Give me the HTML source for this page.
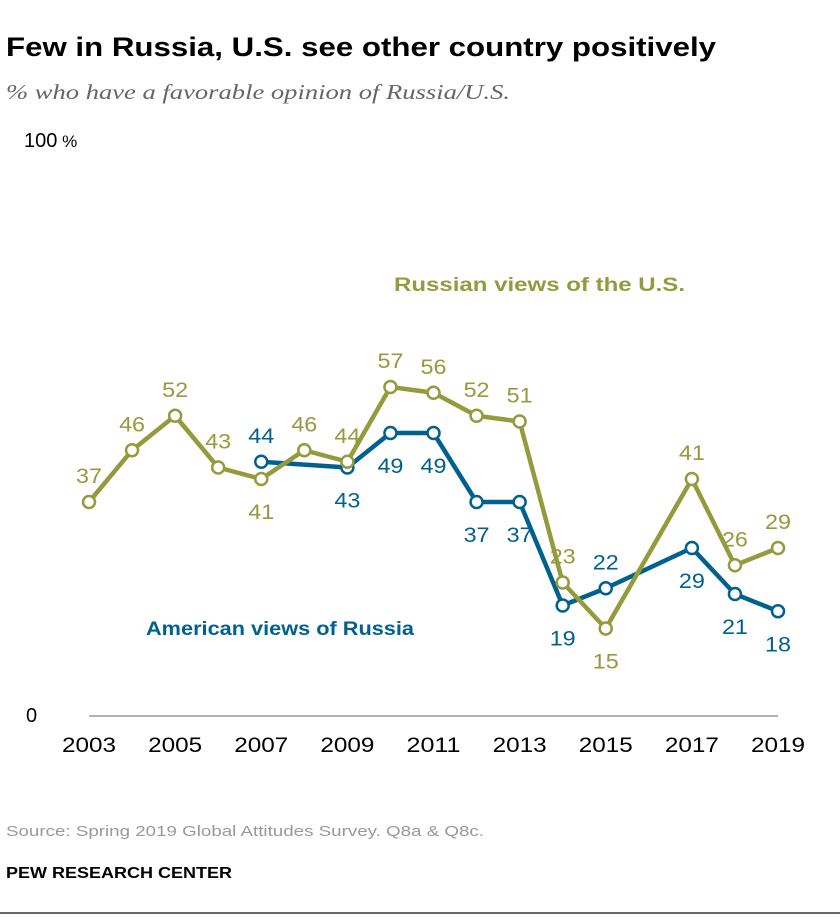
<!DOCTYPE html>
<html><head><meta charset="utf-8"><style>
body{margin:0;background:#fff;width:840px;height:920px;overflow:hidden;font-family:"Liberation Sans",sans-serif}
</style></head><body>
<svg width="840" height="920" style="position:absolute;left:0;top:0">
<text x="6" y="56" font-size="27" font-weight="bold" fill="#000" textLength="710" lengthAdjust="spacingAndGlyphs">Few in Russia, U.S. see other country positively</text>
<text x="6" y="99" font-size="21" font-style="italic" font-family="Liberation Serif" fill="#666" textLength="504" lengthAdjust="spacingAndGlyphs">% who have a favorable opinion of Russia/U.S.</text>
<text x="24" y="147" font-size="20" fill="#000">100<tspan font-size="17"> %</tspan></text>
<text x="26" y="722" font-size="20" fill="#000">0</text>
<line x1="89" x2="778" y1="716" y2="716" stroke="#999" stroke-width="1.5"/>
<g id="xt"></g>
<g id="series"></g>
<text x="394" y="291" font-size="19" font-weight="bold" fill="#949b3d" textLength="291" lengthAdjust="spacingAndGlyphs">Russian views of the U.S.</text>
<text x="146" y="635" font-size="19" font-weight="bold" fill="#00618f" textLength="268" lengthAdjust="spacingAndGlyphs">American views of Russia</text>
<text x="6" y="836" font-size="15" fill="#999" textLength="478" lengthAdjust="spacingAndGlyphs">Source: Spring 2019 Global Attitudes Survey. Q8a &amp; Q8c.</text>
<text x="6" y="878" font-size="16" font-weight="bold" fill="#000" textLength="226" lengthAdjust="spacingAndGlyphs">PEW RESEARCH CENTER</text>
<line x1="0" x2="840" y1="913" y2="913" stroke="#333" stroke-width="1.5"/>
</svg>
<script>
const xTicks=[2003,2005,2007,2009,2011,2013,2015,2017,2019];
const ruYears=[2003,2004,2005,2006,2007,2008,2009,2010,2011,2012,2013,2014,2015,2017,2018,2019];
const ruVals=[37,46,52,43,41,46,44,57,56,52,51,23,15,41,26,29];
const ruPos=['a','a','a','a','b','a','a','a','a','a','a','a','b','a','a','a'];
const usYears=[2007,2009,2010,2011,2012,2013,2014,2015,2017,2018,2019];
const usVals=[44,43,49,49,37,37,19,22,29,21,18];
const usPos=['a','b','b','b','b','b','b','a','b','b','b'];
const NS='http://www.w3.org/2000/svg';
const X=y=>89+(y-2003)*(689/16);
const Y=v=>714.75-v*5.75;
function mk(t,a,p){const e=document.createElementNS(NS,t);for(const k in a)e.setAttribute(k,a[k]);p.appendChild(e);return e;}
const xt=document.getElementById('xt');
xTicks.forEach(t=>{const e=mk('text',{x:X(t),y:752,'font-size':21,'text-anchor':'middle',fill:'#000',textLength:54,lengthAdjust:'spacingAndGlyphs'},xt);e.textContent=t;

});
const sg=document.getElementById('series');
function draw(years,vals,pos,col,name){
const pl=mk('polyline',{points:years.map((y,i)=>X(y)+','+Y(vals[i])).join(' '),fill:'none',stroke:col,'stroke-width':4.5,'stroke-linejoin':'round'},sg);


years.forEach((y,i)=>{const c=mk('circle',{cx:X(y),cy:Y(vals[i]),r:6,fill:'#fff',stroke:col,'stroke-width':2.5},sg);


const t=mk('text',{x:X(y),y:Y(vals[i])+(pos[i]=='a'?-19:40),'font-size':21,'text-anchor':'middle',fill:col,textLength:26,lengthAdjust:'spacingAndGlyphs'},sg);t.textContent=vals[i];

});
}
draw(usYears,usVals,usPos,'#00618f','american-views');
draw(ruYears,ruVals,ruPos,'#949b3d','russian-views');
</script>
</body></html>
